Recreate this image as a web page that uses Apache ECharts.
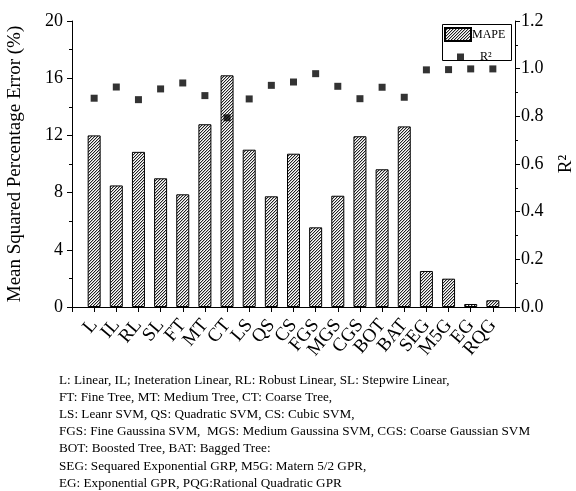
<!DOCTYPE html>
<html>
<head>
<meta charset="utf-8">
<style>html,body{margin:0;padding:0;background:#fff;}#chart{width:576px;height:491px;}</style>
<script src="https://cdn.jsdelivr.net/npm/echarts@6/dist/echarts.min.js"></script>
</head>
<body>
<div id="chart"></div>
<script>
const categories = ['L','IL','RL','SL','FT','MT','CT','LS','QS','CS','FGS','MGS','CGS','BOT','BAT','SEG','M5G','EG','RQG'];
const mapeValues = [12.0, 8.5, 10.85, 9.0, 7.88, 12.78, 16.2, 11.0, 7.74, 10.72, 5.57, 7.78, 11.94, 9.63, 12.63, 2.52, 1.98, 0.21, 0.47];
const r2Values = [0.876, 0.923, 0.870, 0.915, 0.940, 0.887, 0.794, 0.873, 0.930, 0.944, 0.979, 0.926, 0.874, 0.922, 0.880, 0.995, 0.996, 0.999, 0.999];
const leftTicks = [0, 4, 8, 12, 16, 20];
const rightTicks = [0.0, 0.2, 0.4, 0.6, 0.8, 1.0, 1.2];
const footnoteLines = [
  'L: Linear, IL; Ineteration Linear, RL: Robust Linear, SL: Stepwire Linear,',
  'FT: Fine Tree, MT: Medium Tree, CT: Coarse Tree,',
  'LS: Leanr SVM, QS: Quadratic SVM, CS: Cubic SVM,',
  'FGS: Fine Gaussina SVM,  MGS: Medium Gaussina SVM, CGS: Coarse Gaussian SVM',
  'BOT: Boosted Tree, BAT: Bagged Tree:',
  'SEG: Sequared Exponential GRP, M5G: Matern 5/2 GPR,',
  'EG: Exponential GPR, PQG:Rational Quadratic GPR'
];

// padded category axis (empty slot at each end)
const axisCats = [''].concat(categories, ['']);
const barData = [null].concat(mapeValues, [null]);
const scatterData = [null].concat(r2Values, [null]);

function makeHatch() {
  const c = document.createElement('canvas');
  c.width = 3; c.height = 3;
  const ctx = c.getContext('2d');
  ctx.fillStyle = '#fff'; ctx.fillRect(0, 0, 3, 3);
  for (let i = 0; i < 3; i++) {
    ctx.fillStyle = '#222'; ctx.fillRect(i, 2 - i, 1, 1);
    ctx.fillStyle = '#bbb'; ctx.fillRect((i + 1) % 3, 2 - i, 1, 1);
  }
  return c;
}
const hatch = { image: makeHatch(), repeat: 'repeat' };
const FONT = 'Liberation Serif';

const chart = echarts.init(document.getElementById('chart'), null, { renderer: 'canvas' });
chart.setOption({
  animation: false,
  backgroundColor: '#fff',
  textStyle: { fontFamily: FONT, color: '#000' },
  grid: { left: 72, right: 61, top: 21, bottom: 184, containLabel: false, outerBoundsMode: 'none' },
  legend: [
    {
      data: [{ name: 'MAPE', icon: 'rect' }], left: 444, top: 27, itemWidth: 26, itemHeight: 13, itemGap: 0,
      textStyle: { fontFamily: FONT, fontSize: 12, color: '#000', padding: [0, 0, 0, -4] }, padding: 0
    },
    {
      data: [{ name: 'R²', icon: 'rect' }], left: 457, top: 51, itemWidth: 7, itemHeight: 7,
      textStyle: { fontFamily: FONT, fontSize: 12, color: '#000', padding: [0, 0, 0, 11] }, padding: 0
    }
  ],
  graphic: [
    { type: 'rect', shape: { x: 442.5, y: 24.5, width: 69, height: 36 }, style: { fill: 'none', stroke: '#000', lineWidth: 1 }, z: 10 },
    {
      type: 'text', left: 59, top: 372,
      style: { text: footnoteLines.join('\n'), font: '13.2px "Liberation Serif"', fill: '#000', lineHeight: 17.1 }
    }
  ],
  xAxis: [
    {
      type: 'category', data: axisCats, boundaryGap: false, position: 'bottom',
      axisLine: { lineStyle: { color: '#000', width: 1 } },
      axisTick: { show: true, alignWithLabel: true, inside: false, length: 5, lineStyle: { color: '#000' } },
      axisLabel: { rotate: 50, fontSize: 19, color: '#000', fontFamily: FONT, margin: 15, interval: 0 },
      splitLine: { show: false }
    },
    {
      type: 'category', data: axisCats, boundaryGap: false, position: 'top',
      axisLine: { lineStyle: { color: '#000', width: 1 } },
      axisTick: { show: true, inside: true, length: 4, lineStyle: { color: '#000' } },
      axisLabel: { show: false }, splitLine: { show: false }
    }
  ],
  yAxis: [
    {
      type: 'value', min: 0, max: 20, interval: 4, position: 'left',
      name: 'Mean Squared Percentage Error (%)', nameLocation: 'middle', nameRotate: 90, nameGap: 47,
      nameTextStyle: { fontSize: 19, fontFamily: FONT, color: '#000' },
      axisLine: { show: true, lineStyle: { color: '#000' } },
      axisTick: { show: true, length: 5, lineStyle: { color: '#000' } },
      minorTick: { show: true, splitNumber: 2, length: 3, lineStyle: { color: '#000' } },
      axisLabel: { fontSize: 18, color: '#000', fontFamily: FONT, margin: 9 },
      splitLine: { show: false }
    },
    {
      type: 'value', min: 0, max: 1.2, interval: 0.2, position: 'right',
      name: 'R²', nameLocation: 'middle', nameRotate: 90, nameGap: 42,
      nameTextStyle: { fontSize: 19, fontFamily: FONT, color: '#000' },
      axisLine: { show: true, lineStyle: { color: '#000' } },
      axisTick: { show: true, length: 5, lineStyle: { color: '#000' } },
      minorTick: { show: true, splitNumber: 2, length: 3, lineStyle: { color: '#000' } },
      axisLabel: { fontSize: 18, color: '#000', fontFamily: FONT, margin: 6, formatter: v => v.toFixed(1) },
      splitLine: { show: false }
    }
  ],
  series: [
    {
      name: 'MAPE', type: 'bar', xAxisIndex: 0, yAxisIndex: 0, data: barData, barWidth: 13,
      itemStyle: { color: hatch, borderColor: '#000', borderWidth: 1 }
    },
    {
      name: 'R²', type: 'scatter', xAxisIndex: 0, yAxisIndex: 1, data: scatterData,
      symbol: 'rect', symbolSize: 7, itemStyle: { color: '#000' }
    }
  ]
});
</script>
</body>
</html>
